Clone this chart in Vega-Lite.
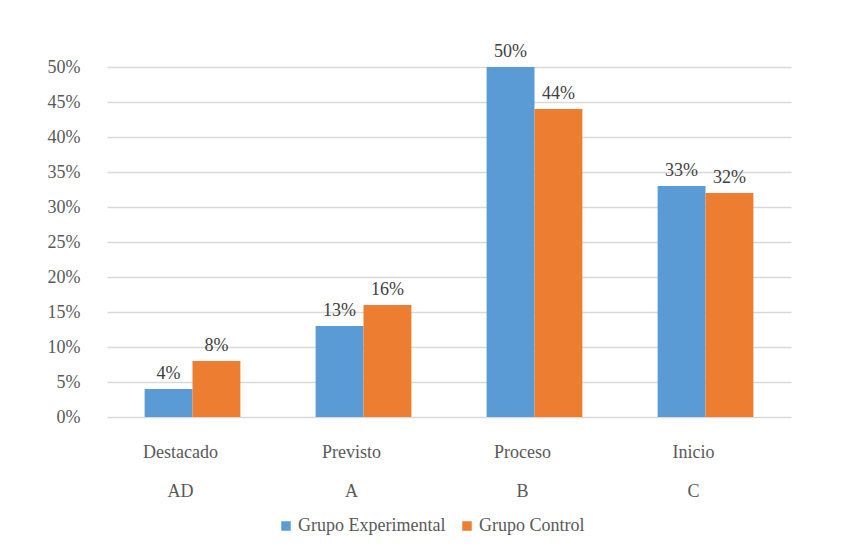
{
  "$schema": "https://vega.github.io/schema/vega-lite/v6.json",
  "autosize": {"type": "none"},
  "width": 684,
  "height": 350,
  "padding": {"left": 107, "top": 67, "right": 62, "bottom": 135},
  "background": "white",
  "config": {
    "font": "Liberation Serif",
    "view": {"stroke": null},
    "axis": {"labelFont": "Liberation Serif", "labelColor": "#595959", "labelFontSize": 18},
    "legend": {"labelFont": "Liberation Serif"},
    "text": {"font": "Liberation Serif"}
  },
  "data": {
    "values": [
      {"nivel": "Destacado|AD", "grupo": "Grupo Experimental", "valor": 0.04},
      {"nivel": "Destacado|AD", "grupo": "Grupo Control", "valor": 0.08},
      {"nivel": "Previsto|A", "grupo": "Grupo Experimental", "valor": 0.13},
      {"nivel": "Previsto|A", "grupo": "Grupo Control", "valor": 0.16},
      {"nivel": "Proceso|B", "grupo": "Grupo Experimental", "valor": 0.50},
      {"nivel": "Proceso|B", "grupo": "Grupo Control", "valor": 0.44},
      {"nivel": "Inicio|C", "grupo": "Grupo Experimental", "valor": 0.33},
      {"nivel": "Inicio|C", "grupo": "Grupo Control", "valor": 0.32}
    ]
  },
  "encoding": {
    "x": {
      "field": "nivel", "type": "nominal", "sort": null,
      "scale": {"paddingInner": 0.44, "paddingOuter": 0.22},
      "axis": {"title": null, "labelAngle": 0, "ticks": false, "domain": false, "labelPadding": 26,
               "labelExpr": "split(datum.label, '|')", "labelLineHeight": 39, "labelBaseline": "top", "labelOffset": -12,
               "labelFont": "Liberation Serif"}
    },
    "xOffset": {"field": "grupo", "type": "nominal", "sort": ["Grupo Experimental", "Grupo Control"]},
    "y": {
      "field": "valor", "type": "quantitative",
      "scale": {"domain": [0, 0.5]},
      "axis": {"title": null, "format": ".0%", "values": [0,0.05,0.1,0.15,0.2,0.25,0.3,0.35,0.4,0.45,0.5],
               "labelOverlap": false, "labelFont": "Liberation Serif",
               "ticks": false, "domain": false, "labelPadding": 27, "gridColor": "#d9d9d9", "gridWidth": 1.5}
    }
  },
  "layer": [
    {
      "mark": {"type": "bar"},
      "encoding": {
        "color": {
          "field": "grupo", "type": "nominal", "sort": ["Grupo Experimental", "Grupo Control"],
          "scale": {"domain": ["Grupo Experimental", "Grupo Control"], "range": ["#5B9BD5", "#ED7D31"]},
          "legend": {"title": null, "orient": "none", "legendX": 170, "legendY": 450, "direction": "horizontal", "symbolType": "square",
                     "symbolSize": 90, "labelFont": "Liberation Serif", "labelFontSize": 18, "labelColor": "#595959",
                     "columnPadding": 12, "labelOffset": 3}
        }
      }
    },
    {
      "mark": {"type": "text", "baseline": "bottom", "dy": -6, "fontSize": 18, "color": "#404040", "font": "Liberation Serif"},
      "encoding": {"text": {"field": "valor", "type": "quantitative", "format": ".0%"}}
    }
  ]
}
